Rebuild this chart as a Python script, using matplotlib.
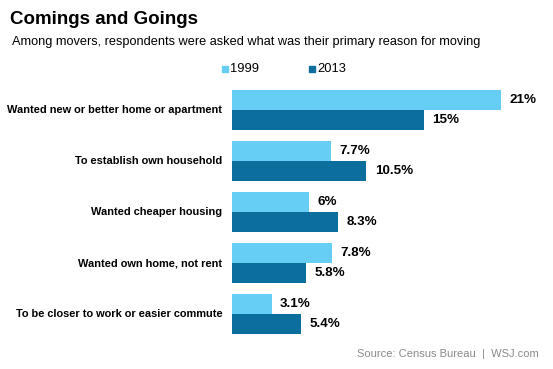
import numpy as np
import matplotlib
matplotlib.use("Agg")
import matplotlib.pyplot as plt
from matplotlib.patches import Rectangle

plt.rcParams["font.family"] = ["Liberation Sans", "DejaVu Sans"]

categories = [
    "Wanted new or better home or apartment",
    "To establish own household",
    "Wanted cheaper housing",
    "Wanted own home, not rent",
    "To be closer to work or easier commute",
]
vals_1999 = [21, 7.7, 6, 7.8, 3.1]
vals_2013 = [15, 10.5, 8.3, 5.8, 5.4]
labels_1999 = ["21%", "7.7%", "6%", "7.8%", "3.1%"]
labels_2013 = ["15%", "10.5%", "8.3%", "5.8%", "5.4%"]

C1999 = "#66CDF5"
C2013 = "#0B6E9C"

W, H = 553, 369
fig = plt.figure(figsize=(W / 100, H / 100), dpi=100)

# axes placed in pixel coordinates
ax_l, ax_r, ax_t, ax_b = 232, 540, 89, 335
ax = fig.add_axes([ax_l / W, 1 - ax_b / H, (ax_r - ax_l) / W, (ax_b - ax_t) / H])

y = np.arange(len(categories))
bh = 0.40
ax.barh(y - bh / 2, vals_1999, height=bh, color=C1999)
ax.barh(y + bh / 2, vals_2013, height=bh, color=C2013)

ax.set_xlim(0, (ax_r - ax_l) / 12.8)
ax.set_ylim(len(categories) - 1 + 0.41, -0.41)
ax.axis("off")

for i in range(len(categories)):
    ax.annotate(labels_1999[i], (vals_1999[i], y[i] - bh / 2), xytext=(6, 0),
                textcoords="offset points", va="center", ha="left",
                fontsize=9.6, fontweight="bold")
    ax.annotate(labels_2013[i], (vals_2013[i], y[i] + bh / 2), xytext=(6, 0),
                textcoords="offset points", va="center", ha="left",
                fontsize=9.6, fontweight="bold")
    ax.annotate(categories[i], (0, y[i]), xytext=(-7, 0),
                textcoords="offset points", va="center", ha="right",
                fontsize=7.9, fontweight="bold")

fig.text(10 / W, 1 - 19 / H, "Comings and Goings", fontsize=13.5,
         fontweight="bold", va="center", ha="left")
fig.text(12 / W, 1 - 42 / H,
         "Among movers, respondents were asked what was their primary reason for moving",
         fontsize=9.2, va="center", ha="left")

# legend
for x0, lab, col in [(222, "1999", C1999), (309, "2013", C2013)]:
    fig.patches.append(Rectangle((x0 / W, 1 - 72 / H), 6 / W, 6 / H,
                                 transform=fig.transFigure, color=col))
    fig.text((x0 + 8) / W, 1 - 69 / H, lab, fontsize=9.3, va="center", ha="left")

fig.text(539 / W, 1 - 354 / H, "Source: Census Bureau  |  WSJ.com",
         fontsize=8.0, color="#8a8a8a", va="center", ha="right")

fig.savefig("out.png", dpi=100)
